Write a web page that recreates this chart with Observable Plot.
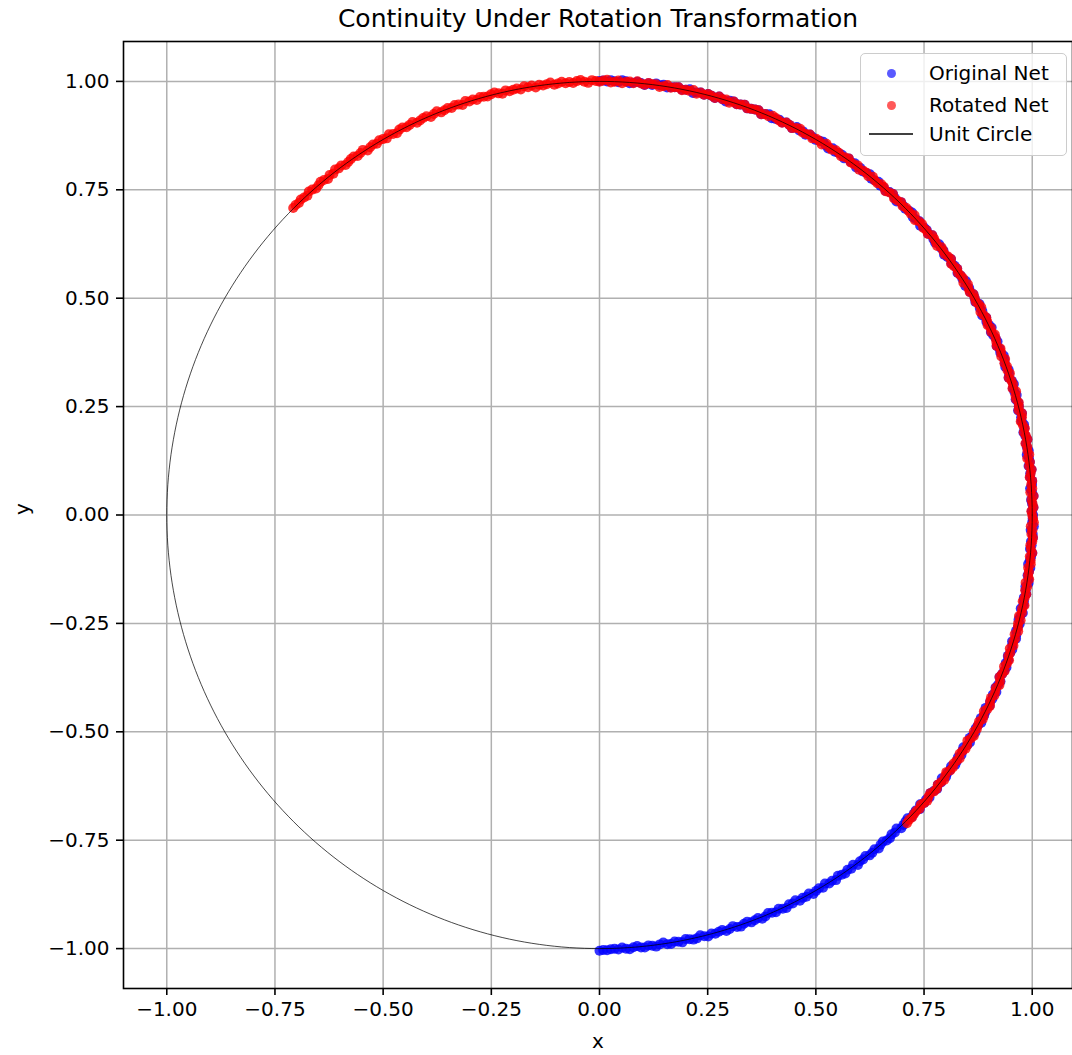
<!DOCTYPE html>
<html><head><meta charset="utf-8">
<script src="https://cdn.jsdelivr.net/npm/d3@7"></script>
<script src="https://cdn.jsdelivr.net/npm/@observablehq/plot@0.6"></script>
<style>
body{margin:0;background:#fff;font-family:"DejaVu Sans",sans-serif;}
#wrap{position:relative;width:1072px;height:1055px;overflow:hidden;background:#fff;}
#legend{position:absolute;left:860px;top:53px;width:205px;height:101px;border:1px solid #cccccc;border-radius:5px;background:rgba(255,255,255,0.8);font-size:20px;color:#000;}
#legend .row{position:absolute;left:0;height:0;}
#legend .sym{position:absolute;}
#legend .lab{position:absolute;left:68px;top:-13px;white-space:nowrap;line-height:26px;}
</style>
</head><body>
<div id="wrap"><div id="chart"></div><div id="legend"></div></div>
<script>
const titleText = "Continuity Under Rotation Transformation";
const xLabel = "x";
const yLabel = "y";
const xTicks = [-1, -0.75, -0.5, -0.25, 0, 0.25, 0.5, 0.75, 1];
const yTicks = [-1, -0.75, -0.5, -0.25, 0, 0.25, 0.5, 0.75, 1];
const seriesNames = ["Original Net", "Rotated Net", "Unit Circle"];
const seriesColors = ["blue", "red", "black"];
const rotationDeg = 45;

// Original net: angle (degrees) and radius of each point
const netAngles = [
-90,-89.5,-89,-88.5,-88,-87.5,-87,-86.5,-86,-85.5,-85,-84.5,-84,-83.5,-83,-82.5,-82,-81.5,-81,-80.5,
-80,-79.5,-79,-78.5,-78,-77.5,-77,-76.5,-76,-75.5,-75,-74.5,-74,-73.5,-73,-72.5,-72,-71.5,-71,-70.5,
-70,-69.5,-69,-68.5,-68,-67.5,-67,-66.5,-66,-65.5,-65,-64.5,-64,-63.5,-63,-62.5,-62,-61.5,-61,-60.5,
-60,-59.5,-59,-58.5,-58,-57.5,-57,-56.5,-56,-55.5,-55,-54.5,-54,-53.5,-53,-52.5,-52,-51.5,-51,-50.5,
-50,-49.5,-49,-48.5,-48,-47.5,-47,-46.5,-46,-45.5,-45,-44.5,-44,-43.5,-43,-42.5,-42,-41.5,-41,-40.5,
-40,-39.5,-39,-38.5,-38,-37.5,-37,-36.5,-36,-35.5,-35,-34.5,-34,-33.5,-33,-32.5,-32,-31.5,-31,-30.5,
-30,-29.5,-29,-28.5,-28,-27.5,-27,-26.5,-26,-25.5,-25,-24.5,-24,-23.5,-23,-22.5,-22,-21.5,-21,-20.5,
-20,-19.5,-19,-18.5,-18,-17.5,-17,-16.5,-16,-15.5,-15,-14.5,-14,-13.5,-13,-12.5,-12,-11.5,-11,-10.5,
-10,-9.5,-9,-8.5,-8,-7.5,-7,-6.5,-6,-5.5,-5,-4.5,-4,-3.5,-3,-2.5,-2,-1.5,-1,-0.5,
0,0.5,1,1.5,2,2.5,3,3.5,4,4.5,5,5.5,6,6.5,7,7.5,8,8.5,9,9.5,
10,10.5,11,11.5,12,12.5,13,13.5,14,14.5,15,15.5,16,16.5,17,17.5,18,18.5,19,19.5,
20,20.5,21,21.5,22,22.5,23,23.5,24,24.5,25,25.5,26,26.5,27,27.5,28,28.5,29,29.5,
30,30.5,31,31.5,32,32.5,33,33.5,34,34.5,35,35.5,36,36.5,37,37.5,38,38.5,39,39.5,
40,40.5,41,41.5,42,42.5,43,43.5,44,44.5,45,45.5,46,46.5,47,47.5,48,48.5,49,49.5,
50,50.5,51,51.5,52,52.5,53,53.5,54,54.5,55,55.5,56,56.5,57,57.5,58,58.5,59,59.5,
60,60.5,61,61.5,62,62.5,63,63.5,64,64.5,65,65.5,66,66.5,67,67.5,68,68.5,69,69.5,
70,70.5,71,71.5,72,72.5,73,73.5,74,74.5,75,75.5,76,76.5,77,77.5,78,78.5,79,79.5,
80,80.5,81,81.5,82,82.5,83,83.5,84,84.5,85,85.5,86,86.5,87,87.5,88,88.5,89,89.5,
90];
const netRadii = [
1.005,1.003,1.004,1.002,1.001,1.003,0.999,1.002,1.004,1.000,0.998,1.002,1.003,0.999,1.001,1.004,1.000,0.997,1.002,1.003,
0.999,1.001,1.004,0.998,1.000,1.003,1.002,0.997,1.001,1.004,0.999,1.002,1.000,0.998,1.003,1.001,0.997,1.002,1.004,1.000,
0.998,1.003,1.001,0.999,1.004,1.002,0.997,1.000,1.003,0.998,1.002,1.004,0.999,1.001,0.997,1.003,1.000,1.002,0.998,1.004,
1.001,0.999,1.003,0.997,1.002,1.000,1.004,0.998,1.001,1.003,0.999,1.002,0.997,1.004,1.000,1.001,0.998,1.003,1.002,0.999,
1.004,1.000,0.998,1.002,1.003,0.999,1.001,0.997,1.004,1.002,1.000,0.998,1.003,1.001,0.999,1.004,0.997,1.002,1.000,1.003,
0.998,1.001,1.004,0.999,1.002,0.997,1.003,1.000,1.001,0.998,1.004,1.002,0.999,1.003,1.000,0.997,1.002,1.004,0.998,1.001,
1.003,0.999,1.000,1.004,0.998,1.002,1.001,0.997,1.003,1.000,1.002,0.999,1.004,0.998,1.001,1.003,0.997,1.000,1.002,1.004,
0.999,1.002,0.998,1.001,1.003,1.000,0.997,1.004,1.002,0.999,1.001,1.003,0.998,1.000,1.004,0.997,1.002,1.001,0.999,1.003,
1.000,0.998,1.004,1.002,0.999,1.001,1.003,0.997,1.000,1.002,1.004,0.998,1.001,0.999,1.003,1.002,0.997,1.004,1.000,1.001,
1.002,0.999,1.003,1.000,0.998,1.004,1.001,0.997,1.002,1.003,0.999,1.000,1.004,0.998,1.002,1.001,0.997,1.003,1.000,0.999,
1.004,1.001,0.998,1.002,1.003,0.999,1.000,1.004,0.997,1.001,1.002,0.998,1.003,1.000,0.999,1.004,1.002,0.997,1.001,1.003,
0.998,1.000,1.002,1.004,0.999,1.001,0.997,1.003,1.002,1.000,0.998,1.004,1.001,0.999,1.003,0.997,1.002,1.000,1.004,0.998,
1.001,1.003,0.999,1.002,0.997,1.004,1.000,1.001,0.998,1.003,1.002,0.999,1.004,1.000,0.997,1.002,1.001,1.003,0.998,1.000,
1.004,0.999,1.002,1.001,0.997,1.003,1.000,0.998,1.004,1.002,0.999,1.001,1.003,0.997,1.000,1.004,1.002,0.998,1.001,0.999,
1.003,1.000,0.998,1.004,1.001,0.999,1.002,0.997,1.003,1.000,1.004,0.998,1.002,1.001,0.999,1.003,0.997,1.000,1.004,1.002,
0.999,1.001,1.003,0.998,1.002,1.000,1.004,0.997,1.001,1.003,0.999,1.002,1.000,0.998,1.004,1.001,0.997,1.003,1.002,1.000,
0.998,1.004,1.001,0.999,1.003,1.002,0.997,1.000,1.004,0.998,1.001,1.003,0.999,1.002,1.000,0.997,1.004,1.001,0.999,1.003,
1.002,1.000,0.998,1.003,1.001,1.004,0.999,1.002,0.997,1.001,1.003,1.000,0.998,1.002,1.004,0.999,1.001,1.003,1.000,1.002,
1.001];

const rad = Math.PI / 180;
const original = netAngles.map((a, i) => ({x: netRadii[i] * Math.cos(a * rad), y: netRadii[i] * Math.sin(a * rad)}));
// Rotated net: the original net rotated by rotationDeg about the origin
const c = Math.cos(rotationDeg * rad), s = Math.sin(rotationDeg * rad);
const rotated = original.map(p => ({x: p.x * c - p.y * s, y: p.x * s + p.y * c}));
// Unit circle reference curve
const circle = d3.range(0, 361).map(a => ({x: Math.cos(a * rad), y: Math.sin(a * rad)}));

const fmt = d3.format(".2f");
const chart = Plot.plot({
  width: 1072,
  height: 1055,
  marginLeft: 123,
  marginTop: 41,
  marginBottom: 67,
  marginRight: 0,
  style: {fontFamily: "DejaVu Sans", fontSize: "20px", color: "black", background: "white"},
  x: {domain: [-1.1, 1.1], range: [123, 1075]},
  y: {domain: [-1.092, 1.092], range: [988, 41]},
  marks: [
    Plot.gridX({ticks: xTicks, stroke: "#b0b0b0", strokeOpacity: 1, strokeWidth: 1.5}),
    Plot.gridY({ticks: yTicks, stroke: "#b0b0b0", strokeOpacity: 1, strokeWidth: 1.5}),
    Plot.dot(original, {x: "x", y: "y", r: 5, fill: seriesColors[0], fillOpacity: 0.8, stroke: null}),
    Plot.dot(rotated, {x: "x", y: "y", r: 5, fill: seriesColors[1], fillOpacity: 0.8, stroke: null}),
    Plot.line(circle, {x: "x", y: "y", stroke: seriesColors[2], strokeWidth: 0.9, strokeOpacity: 0.8}),
    Plot.frame({stroke: "black", strokeWidth: 1.6}),
    Plot.axisX({ticks: xTicks, tickFormat: fmt, tickSize: 7, tickPadding: 6, strokeWidth: 1.6, fontSize: 20, label: null}),
    Plot.axisY({ticks: yTicks, tickFormat: fmt, tickSize: 7, tickPadding: 7, strokeWidth: 1.6, fontSize: 20, label: null}),
    Plot.text([titleText], {frameAnchor: "top", dy: -23, fontSize: 25, lineAnchor: "middle", fill: "black"}),
    Plot.text([xLabel], {frameAnchor: "bottom", dy: 53, fontSize: 20, lineAnchor: "middle", fill: "black"}),
    Plot.text([yLabel], {frameAnchor: "left", dx: -101, rotate: -90, fontSize: 20, lineAnchor: "middle", fill: "black"})
  ]
});
document.getElementById("chart").appendChild(chart);

// Legend
const legend = document.getElementById("legend");
const rowsY = [19, 51, 80];
seriesNames.forEach((name, i) => {
  const row = document.createElement("div");
  row.className = "row";
  row.style.top = rowsY[i] + "px";
  const sym = document.createElement("div");
  sym.className = "sym";
  if (i < 2) {
    sym.style.cssText = `left:25.5px;top:-4.5px;width:9px;height:9px;border-radius:50%;background:${seriesColors[i]};opacity:0.65;`;
  } else {
    sym.style.cssText = `left:8px;top:-0.6px;width:44px;height:1.3px;background:${seriesColors[i]};opacity:0.75;`;
  }
  const lab = document.createElement("div");
  lab.className = "lab";
  lab.textContent = name;
  row.appendChild(sym);
  row.appendChild(lab);
  legend.appendChild(row);
});
</script>
</body></html>
